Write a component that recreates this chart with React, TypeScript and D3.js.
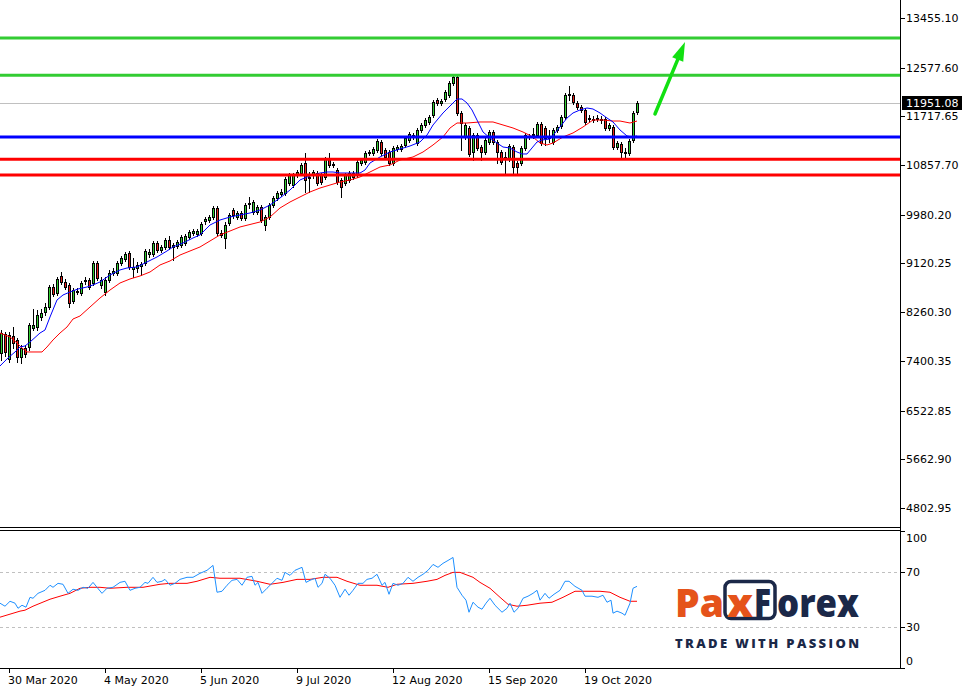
import React from "react";
import * as d3 from "d3";

// ---------- DATA ----------
const opens = [
  7540, 7876, 7434, 7840, 7770, 7469, 7628, 7646, 7981, 7999,
  8176, 8264, 8352, 8705, 8600, 8900, 8794, 8741, 8458, 8617,
  8600, 8811, 8829, 8776, 9129, 8741, 8617, 8829, 8953, 8953,
  9129, 9200, 9306, 9023, 9041, 9076, 9129, 9288, 9288, 9482,
  9359, 9412, 9535, 9412, 9429, 9447, 9482, 9588, 9659, 9641,
  9659, 9871, 9888, 9941, 10100, 9659, 9571, 9835, 10065, 9941,
  10012, 9924, 10189, 10030, 10030, 10118, 9800, 9941, 10153, 10277,
  10348, 10365, 10542, 10506, 10683, 10718, 10895, 10648, 10683, 10718,
  10683, 10648, 10966, 10877, 10771, 10595, 10542, 10595, 10648, 10683,
  10895, 10913, 11071, 11071, 11124, 11266, 11124, 11089, 10895, 11142,
  11142, 11213, 11301, 11389, 11248, 11478, 11566, 11619, 11742, 12007,
  11954, 12025, 12096, 12307, 12413, 11778, 11354, 11513, 11089, 11389,
  11177, 11089, 11266, 11442, 11266, 11089, 11001, 10966, 11177, 10895,
  10895, 11160, 11372, 11389, 11389, 11584, 11513, 11354, 11266, 11478,
  11548, 11707, 12096, 12096, 11954, 11884, 11831, 11689, 11672, 11672,
  11672, 11672, 11513, 11531, 11177, 11230, 11089, 11071, 11301, 11795,
];
const highs = [
  7946, 7911, 7911, 7999, 7805, 7681, 7681, 8070, 8317, 8299,
  8317, 8423, 8741, 8758, 8882, 8970, 8847, 8776, 8688, 8688,
  8811, 8882, 8864, 9165, 9165, 8882, 8882, 9006, 9041, 9165,
  9253, 9323, 9341, 9217, 9147, 9147, 9376, 9376, 9518, 9518,
  9447, 9571, 9606, 9482, 9535, 9624, 9641, 9712, 9730, 9730,
  9853, 9941, 9977, 10136, 10136, 9712, 9853, 10012, 10100, 10047,
  10047, 10189, 10295, 10242, 10153, 10153, 9977, 10189, 10312, 10401,
  10436, 10648, 10718, 10718, 10771, 10895, 11071, 10736, 10771, 10754,
  10718, 11001, 11071, 10913, 10807, 10630, 10718, 10754, 10754, 10948,
  10983, 11107, 11124, 11177, 11319, 11301, 11160, 11124, 11195, 11213,
  11230, 11372, 11442, 11425, 11513, 11601, 11689, 11742, 12007, 12043,
  12025, 12184, 12343, 12466, 12449, 11813, 11601, 11548, 11425, 11425,
  11213, 11336, 11478, 11478, 11301, 11124, 11089, 11230, 11213, 10930,
  11195, 11425, 11407, 11513, 11619, 11619, 11548, 11478, 11513, 11566,
  11742, 12131, 12254, 12131, 11990, 11919, 11866, 11742, 11725, 11742,
  11725, 11707, 11601, 11566, 11283, 11266, 11160, 11319, 11813, 11990,
];
const lows = [
  7416, 7487, 7381, 7628, 7381, 7363, 7469, 7593, 7946, 7946,
  8123, 8211, 8317, 8546, 8564, 8758, 8670, 8352, 8423, 8582,
  8564, 8758, 8670, 8741, 8829, 8688, 8564, 8794, 8917, 8917,
  9094, 9165, 9023, 8882, 8970, 8917, 9094, 9235, 9253, 9323,
  9323, 9376, 9376, 9182, 9394, 9412, 9447, 9553, 9624, 9606,
  9624, 9818, 9853, 9906, 9624, 9588, 9394, 9800, 9924, 9906,
  9888, 9888, 10100, 9994, 9994, 9853, 9712, 9906, 10118, 10242,
  10312, 10330, 10506, 10471, 10648, 10683, 10383, 10383, 10630, 10506,
  10524, 10612, 10824, 10824, 10524, 10295, 10506, 10559, 10612, 10648,
  10860, 10877, 11036, 11036, 11089, 11036, 10966, 10860, 10860, 11107,
  11107, 11177, 11266, 11319, 11213, 11442, 11531, 11584, 11707, 11919,
  11919, 11990, 12060, 12272, 11742, 11124, 11319, 11018, 10948, 11124,
  10948, 11054, 11230, 11230, 10895, 10877, 10683, 10930, 10683, 10683,
  10860, 11124, 11319, 11336, 11354, 11213, 11213, 11266, 11230, 11442,
  11513, 11672, 12007, 11937, 11848, 11795, 11584, 11619, 11619, 11636,
  11601, 11478, 11478, 11142, 11142, 10983, 10966, 11036, 11266, 11760,
];
const closes = [
  7893, 7558, 7858, 7717, 7469, 7628, 7522, 8034, 8034, 8211,
  8246, 8352, 8705, 8582, 8847, 8794, 8705, 8423, 8652, 8635,
  8776, 8829, 8705, 9129, 8864, 8829, 8829, 8953, 8988, 9129,
  9217, 9288, 9059, 9059, 9094, 9112, 9341, 9323, 9482, 9359,
  9412, 9535, 9412, 9447, 9500, 9588, 9606, 9677, 9694, 9694,
  9818, 9906, 9941, 10100, 9659, 9624, 9800, 9977, 9977, 10012,
  9924, 10153, 10171, 10206, 10118, 9888, 9941, 10153, 10277, 10365,
  10383, 10612, 10683, 10683, 10736, 10860, 10595, 10630, 10736, 10542,
  10559, 10966, 10860, 10860, 10559, 10471, 10683, 10718, 10718, 10913,
  10948, 11071, 11089, 11142, 11283, 11071, 11001, 10895, 11160, 11177,
  11195, 11336, 11407, 11354, 11478, 11566, 11654, 11707, 11972, 11954,
  11990, 12149, 12307, 12413, 11778, 11601, 11566, 11054, 11389, 11160,
  11089, 11301, 11442, 11266, 11089, 10913, 10983, 11195, 10824, 10824,
  11160, 11389, 11354, 11407, 11584, 11248, 11336, 11336, 11478, 11531,
  11707, 12096, 12113, 11972, 11884, 11831, 11619, 11672, 11654, 11689,
  11654, 11513, 11566, 11177, 11248, 11089, 11071, 11283, 11778, 11951.08,
];

// moving averages: [bar index, price]
const fastMA: [number, number][] = [
  [-0.25, 7311], [1.75, 7452], [3.5, 7558], [4.75, 7646], [6, 7664], [7.25, 7734],
  [9.75, 7893], [11, 7946], [12.25, 8176], [14, 8476], [15.5, 8564], [17.25, 8617],
  [19.25, 8670], [21.5, 8705], [23, 8741], [24.75, 8794], [27.25, 8917], [29.75, 9006],
  [31.5, 9041], [34, 9059], [36.5, 9147], [39, 9235], [41.5, 9341], [43, 9412],
  [45.5, 9482], [48, 9571], [49.75, 9624], [52.25, 9800], [54.75, 9888], [57.25, 9941],
  [59.75, 9977], [62.25, 10012], [64.75, 10065], [67.25, 10153], [69.75, 10277],
  [72.25, 10418], [74.75, 10595], [76.5, 10648], [78, 10683], [79.75, 10718],
  [81.5, 10736], [83, 10736], [84.75, 10718], [87.25, 10718], [89.75, 10718],
  [91, 10771], [92.25, 10895], [94.75, 11001], [97.25, 11089], [99.75, 11142],
  [102.25, 11195], [104.75, 11266], [106.5, 11389], [108, 11566], [110.5, 11778],
  [113, 11954], [114, 12025], [115.25, 12025], [116.5, 11954], [117.75, 11831],
  [119, 11654], [120.5, 11442], [122.25, 11336], [124, 11248], [125.5, 11177],
  [127.25, 11160], [129, 11089], [130.25, 11054], [131.5, 11054], [132.75, 11160],
  [134, 11266], [135.25, 11301], [137.25, 11319], [138.5, 11425], [139.75, 11531],
  [141.5, 11689], [143, 11778], [144.75, 11831], [146.5, 11866], [148, 11848],
  [149.75, 11778], [151.5, 11689], [153, 11619], [154.75, 11478], [156.5, 11372],
  [157.75, 11354], [159, 11372],
];
const slowMA: [number, number][] = [
  [-0.25, 7893], [2.25, 7823], [4, 7717], [5.25, 7628], [6.5, 7558], [10.25, 7558],
  [11.5, 7646], [13, 7770], [14.75, 7893], [16.5, 7999], [18, 8140], [19.75, 8193],
  [22.25, 8352], [24.75, 8511], [27.25, 8652], [29.75, 8776], [32.25, 8847],
  [34.75, 8900], [37.25, 8970], [39.75, 9094], [42.25, 9165], [44.75, 9270],
  [47.25, 9341], [49.75, 9412], [54.75, 9624], [57.25, 9694], [59.75, 9765],
  [64.75, 9853], [67.25, 9941], [69.75, 10100], [72.25, 10206], [74.75, 10295],
  [77.25, 10383], [79.75, 10453], [82.25, 10506], [84.75, 10559], [87.25, 10595],
  [89.75, 10648], [92.25, 10736], [94.75, 10824], [97.25, 10860], [99.75, 10948],
  [103, 11001], [105.5, 11089], [108, 11213], [110.5, 11354], [112.25, 11513],
  [114, 11601], [116.5, 11601], [119.75, 11619], [123, 11619], [125.5, 11566],
  [128, 11513], [130.5, 11442], [133, 11354], [134.75, 11248], [136.5, 11213],
  [138, 11248], [140.5, 11354], [143, 11425], [145.5, 11531], [148, 11654],
  [150.5, 11654], [153, 11636], [154.75, 11636], [157.25, 11601], [159, 11636],
];

// RSI and its signal line: [bar index, value]
const rsiLine: [number, number][] = [
  [-0.25, 47.3], [1, 45.1], [2.25, 48.7], [3.5, 47.3], [4.25, 43.6], [5.25, 45.8],
  [6.25, 44.4], [7.25, 51.6], [8, 50.9], [9.25, 54.5], [11, 56.7], [12.25, 60.4],
  [13, 58.9], [14.25, 61.8], [15.5, 61.1], [16.75, 54.5], [18, 57.5], [19.25, 56.7],
  [20.5, 58.9], [21.75, 58.2], [23, 62.5], [24, 58.9], [25.25, 54.5], [26.5, 58.2],
  [28, 58.9], [29.75, 62.5], [31, 63.3], [32.25, 56.7], [33.5, 58.2], [34.75, 58.9],
  [36, 62.5], [36.75, 61.8], [38, 66.2], [39, 62.5], [40.25, 63.3], [41, 64.7],
  [42.25, 60.4], [43.5, 61.8], [44.75, 64.7], [46.5, 66.2], [48, 66.2], [49.75, 69.1],
  [51.5, 71.3], [53, 74.9], [54, 55.3], [55.25, 56.0], [56.5, 60.4], [57.75, 64.0],
  [59, 64.7], [60.25, 60.4], [61.5, 66.2], [62.75, 66.9], [63.5, 60.4], [64.25, 62.5],
  [65.25, 54.5], [66.5, 58.2], [67.75, 61.8], [69, 65.5], [70.25, 64.0], [71, 69.8],
  [72.25, 67.6], [73.5, 71.3], [75.25, 73.5], [76.25, 62.5], [77.25, 64.0], [78.5, 65.5],
  [79.25, 58.9], [80.25, 61.8], [81, 68.4], [82.25, 65.5], [83.5, 60.4], [84.75, 51.6],
  [86, 57.5], [87, 53.1], [88, 56.7], [89.25, 61.8], [90.5, 61.8], [91.5, 64.7],
  [92.75, 65.5], [94, 68.4], [95.25, 60.4], [96, 62.5], [97, 53.8], [98, 61.8],
  [99.25, 60.4], [100.5, 61.8], [101.75, 66.2], [103, 63.3], [104.25, 66.2], [105.5, 68.4],
  [106.75, 71.3], [108, 75.6], [109.25, 73.5], [110.5, 76.4], [111.75, 78.5], [113, 80.7],
  [114, 58.9], [115.25, 53.1], [116.25, 49.5], [117, 40.7], [118, 48.0], [119.25, 44.4],
  [120.25, 42.9], [121.25, 47.3], [122.25, 50.9], [123.5, 45.8], [125.25, 40.7],
  [126.5, 43.6], [127.25, 47.3], [128.25, 40.7], [129.25, 43.6], [130.5, 50.9],
  [131.75, 52.4], [133, 54.5], [134, 56.7], [134.75, 49.5], [136, 54.5], [137, 50.9],
  [138.25, 53.8], [139.75, 56.7], [141, 63.3], [142, 63.3], [143.5, 59.6], [145.25, 56.7],
  [146, 52.4], [147.75, 52.4], [149.25, 51.6], [150.5, 53.1], [151.5, 48.0], [152.5, 49.5],
  [153, 40.0], [154, 41.5], [155.25, 40.0], [156, 38.5], [157.25, 47.3], [158, 58.2],
  [159, 59.6],
];
const rsiSignal: [number, number][] = [
  [-0.25, 37.1], [2.25, 39.3], [4.75, 41.5], [6, 42.2], [8, 45.1], [12.25, 50.2],
  [14.75, 52.4], [17.25, 54.5], [19.75, 58.2], [22.25, 58.9], [24.75, 58.9], [27.25, 58.2],
  [31.5, 58.9], [35.5, 58.9], [39.75, 61.1], [42.25, 61.8], [46.5, 61.8], [49, 63.3],
  [52.25, 66.2], [54.75, 65.5], [59.75, 65.5], [64, 63.3], [67.25, 61.1], [70.5, 62.5],
  [74, 64.7], [77.25, 64.7], [80.5, 66.2], [84, 66.2], [86.5, 63.3], [89.75, 60.4],
  [94, 60.4], [96.75, 58.9], [99, 61.1], [103, 61.8], [106.5, 63.3], [109, 64.7],
  [111, 67.6], [113, 69.8], [114.75, 69.8], [118, 66.2], [119.75, 62.5], [122.25, 58.2],
  [124.75, 51.6], [126.75, 46.5], [129, 45.1], [131.5, 45.8], [134.75, 47.3],
  [137.75, 48.0], [140.5, 51.6], [143.5, 56.0], [146.5, 56.0], [149.75, 56.0],
  [152.25, 55.3], [154.75, 51.6], [157.25, 48.7], [159, 48.7],
];

// horizontal levels
const supportLevels = [10960, 10685];
const pivotLevels = [11355];
const targetLevels = [13100, 12445];
const lastPrice = 11951.08;

// arrow annotation [bar index, price]
const arrowFrom: [number, number] = [163.5, 11760];
const arrowTo: [number, number] = [171, 13031];

// axes
const priceTicks = [13455.1, 12577.6, 11717.65, 10857.7, 9980.2, 9120.25, 8260.3, 7400.35, 6522.85, 5662.9, 4802.95];
const rsiTicks = [100, 70, 30, 0];
const rsiLevels = [70, 30];
const dateTickIdx = [2, 26, 50, 74, 98, 122, 146];
const dateTickLabels = ["30 Mar 2020", "4 May 2020", "5 Jun 2020", "9 Jul 2020", "12 Aug 2020", "15 Sep 2020", "19 Oct 2020"];

// ---------- CHART ----------
const W = 971;
const H = 686;
const AXIS_X = 900;
const MAIN_BOTTOM = 527;
const SUB_TOP = 530;
const SUB_BOTTOM = 668;
const FONT = "'DejaVu Sans', Verdana, sans-serif";

const GREEN = "#32cd32";
const RED_BODY = "#e8211b";

export default function App() {
  const x = d3.scaleLinear().domain([0, 159]).range([1, 637]);
  const y = d3.scaleLinear().domain([4802.95, 13455.1]).range([508, 18]);
  const r = d3.scaleLinear().domain([0, 100]).range([SUB_BOTTOM, 531]);

  const priceLine = d3
    .line<[number, number]>()
    .x((d) => x(d[0]))
    .y((d) => y(d[1]));
  const rsiPath = d3
    .line<[number, number]>()
    .x((d) => x(d[0]))
    .y((d) => r(d[1]));

  const candles = closes.map((c, i) => {
    const o = opens[i];
    const cx = Math.round(x(i));
    const top = Math.round(y(Math.max(o, c)));
    const bot = Math.round(y(Math.min(o, c)));
    const hy = Math.round(y(highs[i]));
    const ly = Math.round(y(lows[i]));
    const up = c >= o;
    const h = Math.max(bot - top, 0);
    return (
      <g key={i}>
        <rect x={cx} y={hy} width={1} height={ly - hy + 1} fill="#000" />
        {h < 2 ? (
          <rect x={cx - 1} y={top} width={3} height={h + 1} fill="#000" />
        ) : (
          <>
            <rect x={cx - 1} y={top} width={3} height={h + 1} fill="#000" />
            <rect x={cx} y={top + 1} width={1} height={h - 1} fill={up ? GREEN : RED_BODY} />
          </>
        )}
      </g>
    );
  });

  // arrow geometry
  const ax1 = x(arrowFrom[0]);
  const ay1 = y(arrowFrom[1]);
  const ax2 = x(arrowTo[0]);
  const ay2 = y(arrowTo[1]);
  const len = Math.hypot(ax2 - ax1, ay2 - ay1);
  const ux = (ax2 - ax1) / len;
  const uy = (ay2 - ay1) / len;
  const headLen = 19;
  const headHalf = 6;
  const bx = ax2 - ux * headLen;
  const by = ay2 - uy * headLen;
  const head = [
    [ax2, ay2],
    [bx - uy * headHalf, by + ux * headHalf],
    [bx + uy * headHalf, by - ux * headHalf],
  ]
    .map((p) => p.join(","))
    .join(" ");

  const lastY = y(lastPrice);

  return (
    <div style={{ position: "absolute", left: 0, top: 0, width: W, height: H, background: "#fff" }}>
      <svg width={W} height={H} style={{ display: "block", fontFamily: FONT }}>
        <defs>
          <clipPath id="mainClip">
            <rect x={0} y={0} width={AXIS_X} height={MAIN_BOTTOM} />
          </clipPath>
          <clipPath id="subClip">
            <rect x={0} y={SUB_TOP + 1} width={AXIS_X} height={SUB_BOTTOM - SUB_TOP - 1} />
          </clipPath>
        </defs>
        <rect x={0} y={0} width={W} height={H} fill="#fff" />

        {/* main panel */}
        <g clipPath="url(#mainClip)">
          <line x1={0} x2={AXIS_X} y1={Math.round(lastY) + 0.5} y2={Math.round(lastY) + 0.5} stroke="#c0c0c0" strokeWidth={1} />
          <g shapeRendering="crispEdges">{candles}</g>
          <path d={priceLine(slowMA) || ""} fill="none" stroke="#ff0000" strokeWidth={1} />
          <path d={priceLine(fastMA) || ""} fill="none" stroke="#0000ff" strokeWidth={1} />
          {targetLevels.map((v, i) => (
            <line key={"t" + i} x1={0} x2={AXIS_X} y1={y(v)} y2={y(v)} stroke="#33cc33" strokeWidth={3} />
          ))}
          {pivotLevels.map((v, i) => (
            <line key={"p" + i} x1={0} x2={AXIS_X} y1={y(v)} y2={y(v)} stroke="#0000ff" strokeWidth={3} />
          ))}
          {supportLevels.map((v, i) => (
            <line key={"s" + i} x1={0} x2={AXIS_X} y1={y(v)} y2={y(v)} stroke="#ff0000" strokeWidth={3} />
          ))}
          <line x1={ax1} y1={ay1} x2={bx} y2={by} stroke="#11e011" strokeWidth={3.5} strokeLinecap="round" />
          <polygon points={head} fill="#11e011" />
        </g>

        {/* sub panel (RSI) */}
        <g clipPath="url(#subClip)">
          {rsiLevels.map((v) => (
            <line
              key={v}
              x1={0}
              x2={AXIS_X}
              y1={Math.round(r(v)) + 0.5}
              y2={Math.round(r(v)) + 0.5}
              stroke="#c0c0c0"
              strokeWidth={1}
              strokeDasharray="3,3"
            />
          ))}
          <path d={rsiPath(rsiSignal) || ""} fill="none" stroke="#ff0000" strokeWidth={1} />
          <path d={rsiPath(rsiLine) || ""} fill="none" stroke="#1e90ff" strokeWidth={1} />
        </g>

        {/* frames */}
        <g shapeRendering="crispEdges" stroke="#000" strokeWidth={1}>
          <line x1={0} x2={AXIS_X + 1} y1={MAIN_BOTTOM + 0.5} y2={MAIN_BOTTOM + 0.5} />
          <line x1={0} x2={AXIS_X + 1} y1={SUB_TOP + 0.5} y2={SUB_TOP + 0.5} />
          <line x1={0} x2={AXIS_X + 1} y1={SUB_BOTTOM + 0.5} y2={SUB_BOTTOM + 0.5} />
          <line x1={AXIS_X + 0.5} x2={AXIS_X + 0.5} y1={0} y2={SUB_BOTTOM + 1} />
        </g>

        {/* price axis */}
        <g fontSize={11} fill="#000">
          {priceTicks.map((v) => {
            const yy = Math.round(y(v));
            return (
              <g key={v}>
                <line x1={AXIS_X + 1} x2={AXIS_X + 5} y1={yy + 0.5} y2={yy + 0.5} stroke="#000" shapeRendering="crispEdges" />
                <text x={906} y={yy} dy="0.36em">
                  {v.toFixed(2)}
                </text>
              </g>
            );
          })}
          <rect x={902} y={Math.round(lastY) - 7} width={60} height={14} fill="#000" />
          <text x={906} y={Math.round(lastY)} dy="0.36em" fill="#fff">
            {lastPrice.toFixed(2)}
          </text>
        </g>

        {/* RSI axis */}
        <g fontSize={11} fill="#000">
          {rsiTicks.map((v) => {
            const yy = Math.round(r(v));
            const ly = Math.min(Math.max(yy, 538), 661);
            return (
              <g key={v}>
                <line x1={AXIS_X + 1} x2={AXIS_X + 5} y1={yy + 0.5} y2={yy + 0.5} stroke="#000" shapeRendering="crispEdges" />
                <text x={906} y={ly} dy="0.36em">
                  {v}
                </text>
              </g>
            );
          })}
        </g>

        {/* date axis */}
        <g fontSize={11} fill="#000">
          {dateTickIdx.map((idx, k) => {
            const xx = Math.round(x(idx));
            return (
              <g key={idx}>
                <line x1={xx + 0.5} x2={xx + 0.5} y1={SUB_BOTTOM + 1} y2={SUB_BOTTOM + 5} stroke="#000" shapeRendering="crispEdges" />
                <text x={xx - 1} y={684}>
                  {dateTickLabels[k]}
                </text>
              </g>
            );
          })}
        </g>

        {/* logo */}
        <g fontFamily="'Open Sans', 'Noto Sans', sans-serif" fontWeight={800}>
          <rect x={725} y={581.5} width={50} height={37} rx={6} fill="none" stroke="#1b2848" strokeWidth={3.5} />
          <text x={675} y={617} fontSize={39} fill="#e5531a" textLength={49} lengthAdjust="spacingAndGlyphs">
            Pa
          </text>
          <text x={727} y={617} fontSize={39} fill="#e5531a" textLength={26} lengthAdjust="spacingAndGlyphs">
            x
          </text>
          <text x={754} y={617} fontSize={39} fill="#1b2848" textLength={17} lengthAdjust="spacingAndGlyphs">
            F
          </text>
          <text x={777} y={617} fontSize={39} fill="#1b2848" textLength={82} lengthAdjust="spacingAndGlyphs">
            orex
          </text>
          <text x={675} y={648} fontSize={13} fill="#1b2848" textLength={184} lengthAdjust="spacing">
            TRADE WITH PASSION
          </text>
        </g>
      </svg>
    </div>
  );
}
